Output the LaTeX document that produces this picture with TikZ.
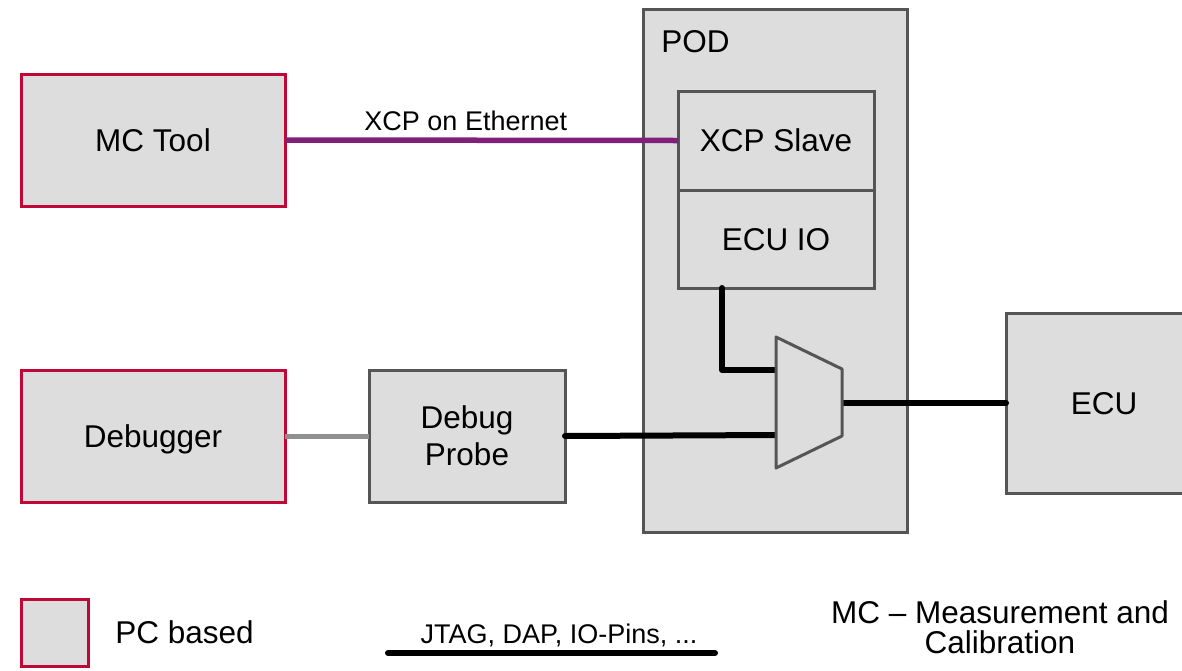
\documentclass[tikz,border=0pt]{standalone}
\usepackage{fontspec}
\setmainfont{Liberation Sans}

\definecolor{boxgray}{HTML}{DDDDDD}
\definecolor{edgegray}{HTML}{555555}
\definecolor{pcred}{HTML}{C00838}
\definecolor{xcppurple}{HTML}{80207A}
\definecolor{linkgray}{HTML}{909090}

\tikzset{
	block/.style={draw=edgegray, fill=boxgray, line width=1.5pt, inner sep=0pt, outer sep=0pt,
		font=\fontsize{15.75}{18.5}\selectfont, align=center},
	pcblock/.style={block, draw=pcred},
	signal/.style={line width=3pt, line cap=round, line join=round},
	biglabel/.style={font=\fontsize{15.75}{15}\selectfont, inner sep=0pt},
	smalllabel/.style={font=\fontsize{13.5}{15}\selectfont, inner sep=0pt, text=black}
}

\begin{document}
\begin{tikzpicture}[x=0.5pt, y=-0.5pt]

\useasboundingbox (0,0) rectangle (1182,670);
\clip (0,0) rectangle (1182,670);

% pod with its two parts
\node[block, minimum width=132pt, minimum height=261.5pt] (pod) at (775,270.5) {};
\node[biglabel, anchor=base west] (podlabel) at (661,52) {POD};
\node[block, minimum width=98pt, minimum height=49.5pt, text depth=0pt] (slave) at (776,140.5) {XCP Slave};
\node[block, minimum width=98pt, minimum height=49pt, text depth=0pt] (ecuio) at (776,239) {ECU IO};

% tools on the pc
\node[pcblock, minimum width=132pt, minimum height=66pt, text depth=0pt] (mctool) at (153,140) {MC Tool};
\node[pcblock, minimum width=132pt, minimum height=66pt, text depth=0pt] (debugger) at (153,436) {Debugger};
\node[block, minimum width=98pt, minimum height=66pt] (probe) at (467,436) {Debug\\Probe};

% target
\node[block, minimum width=98pt, minimum height=90pt, text depth=0pt] (ecu) at (1104,403) {ECU};

% switch
\coordinate (muxa) at (776,370);
\coordinate (muxb) at (776,435);
\coordinate (muxo) at (842,403);

% links
\draw[xcppurple, line width=2.75pt] (mctool.east) -- (slave.west)
	node[smalllabel, pos=0.46, above=3.5pt] (xcplabel) {XCP on Ethernet};
\draw[linkgray, line width=2.5pt] (debugger.east) -- (probe.west);
\draw[signal] ([xshift=22pt]ecuio.south west) |- (muxa);
\draw[signal] (probe.east) -- (muxb);
\draw[signal] (muxo) -- (ecu.west);

\draw[draw=edgegray, fill=boxgray, line width=1.5pt, line join=round]
	(776,337) -- (842,369) -- (842,436) -- (776,468) -- cycle;

% legend
\node[pcblock, minimum width=33.5pt, minimum height=33.5pt] (legbox) at (54.5,632.5) {};
\node[biglabel, anchor=base west] (legtext) at (115,643) {PC based};
\coordinate (busa) at (388,653);
\coordinate (busb) at (715,653);
\draw[signal] (busa) -- (busb);
\node[smalllabel, anchor=base] (buslabel) at (559,643) {JTAG, DAP, IO-Pins, ...};
\node[biglabel, align=center] (mcnote) at (1000,627) {MC -- Measurement and\\Calibration};

\end{tikzpicture}
\end{document}
